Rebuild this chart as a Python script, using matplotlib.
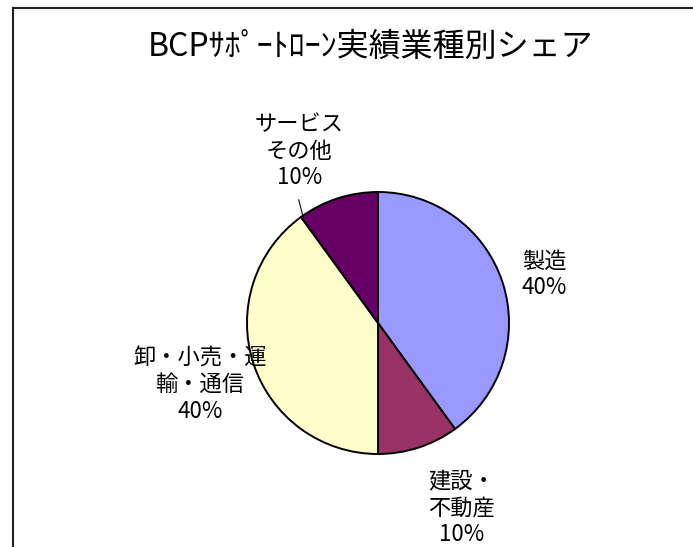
import matplotlib
matplotlib.use("Agg")
import matplotlib.pyplot as plt
import numpy as np
from matplotlib.lines import Line2D

plt.rcParams['font.family'] = ['Noto Sans CJK JP', 'DejaVu Sans']

# ---- data ----
title = "BCPｻﾎﾟｰﾄﾛｰﾝ実績業種別シェア"
categories = ["製造", "建設・\n不動産", "卸・小売・運\n輸・通信", "サービス\nその他"]
shares = [40, 10, 40, 10]
colors = ["#9999FF", "#993366", "#FFFFCC", "#660066"]

# ---- layout ----
W, H = 693, 547
cx, cy, R = 378, 323, 131          # pie centre / radius in pixels
label_pos = [(1.27, 0.37), (0.64, -1.41), (-1.36, -0.47), (-0.60, 1.31)]  # in radius units

fig = plt.figure(figsize=(W / 100, H / 100), dpi=100)
ax = fig.add_axes([0, 0, 1, 1])

wedges, _ = ax.pie(shares, colors=colors, startangle=90, counterclock=False,
                   radius=1.0, center=(0, 0),
                   wedgeprops=dict(edgecolor="black", linewidth=1.4))
ax.set_xlim(-cx / R, (W - cx) / R)
ax.set_ylim((cy - H) / R, cy / R)
ax.set_aspect("auto")
ax.axis("off")

total = sum(shares)
for cat, v, (lx, ly) in zip(categories, shares, label_pos):
    ax.text(lx, ly, f"{cat}\n{v / total * 100:.0f}%", ha="center", va="center",
            fontsize=16, linespacing=1.2, color="black")

# leader line for the last (small) slice: from label to its start boundary on the rim
cum_before_last = sum(shares[:-1])
ang = np.deg2rad(90 - 360 * cum_before_last / total)
ex, ey = np.cos(ang), np.sin(ang)
lx, ly = label_pos[-1]
ax.plot([lx - 0.005, ex + 0.015], [ly - 0.37, ey + 0.005], color="black", lw=0.8)

# title
fig.text(371 / W, 1 - 47 / H, title, ha="center", va="center", fontsize=23)

# chart border (cropped on right / bottom)
fig.add_artist(Line2D([13 / W, 1.0], [1 - 7.5 / H, 1 - 7.5 / H], transform=fig.transFigure,
                      color="#222222", lw=1.5))
fig.add_artist(Line2D([13 / W, 13 / W], [0, 1 - 7.5 / H], transform=fig.transFigure,
                      color="#222222", lw=1.5))

fig.savefig("out.png", dpi=100)
